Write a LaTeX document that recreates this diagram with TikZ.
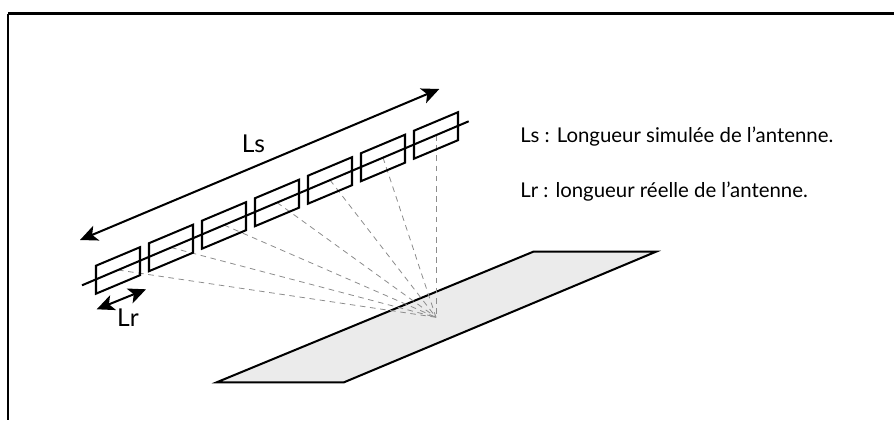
\documentclass[tikz,border=0pt]{standalone}
\usepackage{fontspec}
\setmainfont{Lato}
\usetikzlibrary{arrows.meta,calc}
\tikzset{
	antenne/.style={line width=1.15pt},
	rayon/.style={line width=0.45pt,dash pattern=on 3.2pt off 2.6pt,draw=black!45},
	longueur/.style={line width=1.15pt,{Stealth[length=10pt,width=9pt,inset=2.5pt]}-{Stealth[length=10pt,width=9pt,inset=2.5pt]}},
	legende/.style={anchor=base west,font=\fontsize{11.6}{13}\selectfont,inner sep=0pt},
	cote/.style={anchor=base,font=\fontsize{14}{16}\selectfont,inner sep=0pt}
}
\begin{document}
\begin{tikzpicture}[x=0.02cm,y=-0.02cm]
	\useasboundingbox (0,0) rectangle (894,420);
	\fill[white] (0,0) rectangle (894,420);
	\draw[line width=1.4pt] (8,13.5) -- (894,13.5);
	\draw[line width=1.4pt] (8,13.5) -- (8,420);
	% sol
	\draw[antenne,fill=black!8] (216.7,382.3) -- (344,382.3) -- (656,251.7) -- (533.3,251.7) -- cycle;
	\coordinate (cible) at (436,317.3);
	% rayons
	\foreach \i in {0,...,6}{
		\coordinate (centre\i) at ({118+53*\i},{270-22.5*\i});
		\draw[rayon] (centre\i) -- (cible);
	}
	% antenne
	\coordinate (debut) at (82,285.3);
	\coordinate (fin) at (468.7,121.3);
	\draw[antenne] (debut) -- (fin);
	\foreach \i in {0,...,6}{
		\draw[antenne] ($({118+53*\i},{270-22.5*\i})+(-22,-4.3)$) -- ++(44,-18.5) -- ++(0,28) -- ++(-44,18.5) -- cycle;
	}
	% longueurs
	\coordinate (lsA) at (80,240);
	\coordinate (lsB) at (439.3,89);
	\coordinate (lrA) at (96.7,309.3);
	\coordinate (lrB) at (146,289.3);
	\draw[longueur] (lsA) -- (lsB);
	\draw[longueur] (lrA) -- (lrB);
	\node[cote] (ls) at (253.5,152.7) {Ls};
	\node[cote] (lr) at (128,326.7) {Lr};
	\node[legende] (legendeS) at (520,142.7) {Ls : Longueur simulée de l’antenne.};
	\node[legende] (legendeR) at (520,197) {Lr : longueur réelle de l’antenne.};
\end{tikzpicture}
\end{document}
